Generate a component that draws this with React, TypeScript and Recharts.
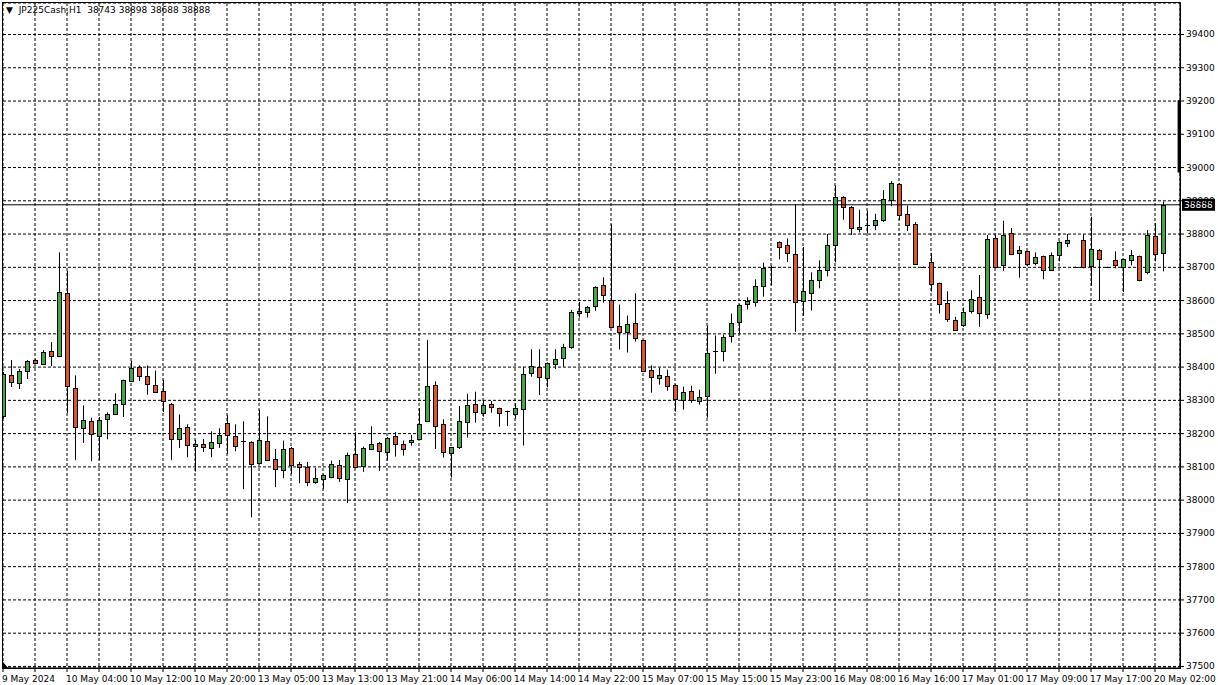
import React from "react";
import {
  ComposedChart,
  Bar,
  XAxis,
  YAxis,
  CartesianGrid,
  ReferenceLine,
  ReferenceArea,
} from "recharts";

// JP225Cash H1, one value per hourly bar
const opens = [
  38252, 38376, 38352, 38389, 38420, 38408, 38447, 38432, 38622, 38338,
  38218, 38239, 38193, 38245, 38260, 38290, 38359, 38400, 38374, 38347,
  38329, 38290, 38184, 38221, 38164, 38169, 38157, 38172, 38233, 38193,
  38178, 38175, 38111, 38178, 38124, 38091, 38157, 38109, 38100, 38055,
  38064, 38069, 38106, 38064, 38139, 38103, 38154, 38172, 38145, 38193,
  38168, 38174, 38185, 38239, 38347, 38228, 38143, 38161, 38234, 38289,
  38263, 38289, 38276, 38267, 38260, 38273, 38381, 38400, 38367, 38409,
  38428, 38459, 38564, 38567, 38585, 38646, 38601, 38525, 38507, 38534,
  38480, 38392, 38368, 38374, 38347, 38302, 38329, 38299, 38314, 38447,
  38447, 38492, 38537, 38591, 38597, 38643, 38702, 38776, 38767, 38740,
  38600, 38622, 38661, 38691, 38767, 38912, 38882, 38815, 38826, 38827,
  38842, 38903, 38951, 38860, 38830, 38700, 38715, 38652, 38594, 38543,
  38528, 38570, 38612, 38561, 38788, 38706, 38803, 38742, 38748, 38712,
  38733, 38691, 38736, 38773, 38700, 38782, 38703, 38752, 38700, 38721,
  38700, 38721, 38733, 38685, 38794, 38743,
];
const highs = [
  38385, 38421, 38395, 38421, 38424, 38451, 38475, 38745, 38689, 38375,
  38285, 38248, 38250, 38264, 38321, 38362, 38419, 38405, 38405, 38390,
  38362, 38292, 38258, 38228, 38181, 38184, 38207, 38216, 38255, 38228,
  38237, 38177, 38272, 38252, 38154, 38179, 38160, 38115, 38115, 38097,
  38078, 38119, 38121, 38143, 38204, 38161, 38222, 38175, 38190, 38205,
  38179, 38196, 38276, 38482, 38357, 38243, 38160, 38283, 38320, 38326,
  38300, 38298, 38278, 38269, 38291, 38401, 38454, 38454, 38414, 38454,
  38470, 38572, 38596, 38584, 38643, 38670, 38830, 38588, 38555, 38622,
  38482, 38405, 38398, 38392, 38349, 38341, 38344, 38332, 38525, 38495,
  38498, 38561, 38590, 38610, 38664, 38714, 38705, 38778, 38787, 38890,
  38761, 38685, 38721, 38800, 38946, 38914, 38884, 38873, 38870, 38861,
  38932, 38959, 38953, 38886, 38836, 38702, 38743, 38654, 38628, 38551,
  38579, 38631, 38677, 38797, 38797, 38840, 38818, 38764, 38750, 38745,
  38735, 38745, 38778, 38800, 38702, 38800, 38852, 38755, 38702, 38748,
  38726, 38752, 38735, 38812, 38833, 38898,
];
const lows = [
  38245, 38340, 38334, 38364, 38410, 38406, 38403, 38430, 38262, 38120,
  38172, 38117, 38120, 38183, 38258, 38250, 38356, 38358, 38317, 38323,
  38265, 38120, 38157, 38129, 38086, 38145, 38129, 38157, 38139, 38147,
  38033, 37948, 38108, 38118, 38039, 38066, 38079, 38051, 38042, 38049,
  38034, 38066, 38055, 37991, 38096, 38085, 38152, 38088, 38119, 38131,
  38134, 38164, 38182, 38237, 38154, 38128, 38068, 38154, 38188, 38233,
  38251, 38263, 38221, 38223, 38245, 38164, 38371, 38316, 38339, 38394,
  38401, 38455, 38549, 38549, 38569, 38594, 38520, 38453, 38444, 38477,
  38387, 38323, 38347, 38329, 38266, 38272, 38293, 38287, 38248, 38380,
  38417, 38474, 38501, 38573, 38582, 38612, 38646, 38724, 38716, 38506,
  38554, 38570, 38637, 38673, 38715, 38843, 38797, 38805, 38803, 38812,
  38836, 38884, 38842, 38809, 38709, 38698, 38627, 38561, 38536, 38513,
  38521, 38561, 38521, 38545, 38697, 38690, 38739, 38669, 38703, 38706,
  38664, 38689, 38718, 38761, 38698, 38697, 38645, 38600, 38698, 38697,
  38626, 38706, 38658, 38679, 38718, 38688,
];
const closes = [
  38380, 38356, 38389, 38419, 38413, 38444, 38434, 38625, 38342, 38221,
  38242, 38200, 38242, 38260, 38288, 38362, 38397, 38372, 38350, 38326,
  38299, 38184, 38218, 38166, 38170, 38159, 38175, 38197, 38196, 38163,
  38177, 38109, 38181, 38121, 38094, 38154, 38106, 38099, 38055, 38067,
  38075, 38109, 38067, 38136, 38099, 38157, 38169, 38148, 38187, 38170,
  38155, 38181, 38228, 38344, 38224, 38146, 38159, 38237, 38285, 38266,
  38285, 38279, 38263, 38266, 38276, 38379, 38402, 38370, 38412, 38424,
  38460, 38566, 38570, 38582, 38640, 38616, 38522, 38507, 38531, 38486,
  38389, 38371, 38377, 38344, 38305, 38326, 38302, 38311, 38441, 38446,
  38489, 38534, 38588, 38598, 38643, 38697, 38701, 38761, 38743, 38597,
  38628, 38661, 38691, 38767, 38912, 38882, 38818, 38821, 38825, 38842,
  38906, 38954, 38857, 38827, 38709, 38700, 38649, 38591, 38546, 38513,
  38567, 38606, 38564, 38785, 38701, 38797, 38739, 38752, 38709, 38730,
  38691, 38736, 38776, 38782, 38700, 38700, 38755, 38724, 38700, 38706,
  38724, 38736, 38661, 38797, 38739, 38888,
];

// one label every 8 bars, starting at bar 0
const timeLabels = [
  "9 May 2024", "10 May 04:00", "10 May 12:00", "10 May 20:00",
  "13 May 05:00", "13 May 13:00", "13 May 21:00", "14 May 06:00",
  "14 May 14:00", "14 May 22:00", "15 May 07:00", "15 May 15:00",
  "15 May 23:00", "16 May 08:00", "16 May 16:00", "17 May 01:00",
  "17 May 09:00", "17 May 17:00", "20 May 02:00",
];
const priceTicks = [
  37500, 37600, 37700, 37800, 37900, 38000, 38100, 38200, 38300, 38400,
  38500, 38600, 38700, 38800, 38900, 39000, 39100, 39200, 39300, 39400,
];
const barTicks = Array.from({ length: 37 }, (_, k) => k * 4);
const lastPrice = 38888;
const axisMarkTop = 39202;
const axisMarkBottom = 38985;

const symbolTitle = "JP225Cash,H1";
const ohlcTitle = "38743 38898 38688 38888";

const X_MAX = 147.125;
const Y_MIN = 37495.3;
const Y_MAX = 39494.7;

const FONT = "'DejaVu Sans', Tahoma, sans-serif";
const UP = "#42a843";
const DOWN = "#e0542b";

const data = opens.map((o, i) => ({
  bar: i,
  open: o,
  high: highs[i],
  low: lows[i],
  close: closes[i],
}));

const Candle = (props: any) => {
  const { x, y, width, height, payload } = props;
  if (payload == null || x == null) return null;
  const { open, close, high, low } = payload;
  const top = Math.min(y, y + height);
  const h = Math.abs(height);
  const ratio = high > low ? h / (high - low) : 0;
  const yOf = (v: number) => top + (high - v) * ratio;
  const cx = Math.round(x + width / 2);
  const up = close >= open;
  const bTop = Math.round(yOf(Math.max(open, close)));
  const bBot = Math.round(yOf(Math.min(open, close)));
  return (
    <g>
      <line x1={cx + 0.5} x2={cx + 0.5} y1={top} y2={top + h} stroke="#000" strokeWidth={1} />
      {bBot - bTop < 2 ? (
        <rect x={cx - 2} y={bTop} width={5} height={1} fill="#000" />
      ) : (
        <rect
          x={cx - 1.5}
          y={bTop + 0.5}
          width={4}
          height={bBot - bTop}
          fill={up ? UP : DOWN}
          stroke="#000"
          strokeWidth={1}
        />
      )}
    </g>
  );
};

const TimeTick = (props: any) => {
  const { x, y, payload } = props;
  const v = payload.value;
  if (v % 8 !== 0) return null;
  return (
    <text x={x - 1} y={y + 5} textAnchor="start" dominantBaseline="central" fontSize={9} fontFamily={FONT} fill="#000">
      {timeLabels[v / 8]}
    </text>
  );
};

const PriceTick = (props: any) => {
  const { x, y, payload } = props;
  return (
    <text x={x} y={y} textAnchor="start" dominantBaseline="central" fontSize={9} fontFamily={FONT} fill="#000">
      {payload.value}
    </text>
  );
};

const PriceBox = (props: any) => {
  const vb = props.viewBox;
  if (!vb) return null;
  const bx = vb.x + vb.width + 2;
  return (
    <g>
      <rect x={bx} y={vb.y - 6} width={33} height={12} fill="#000" />
      <text x={bx + 2} y={vb.y} dominantBaseline="central" fontSize={9} fontFamily={FONT} fill="#fff">
        {lastPrice}
      </text>
    </g>
  );
};

export default function App() {
  return (
    <div style={{ position: "absolute", left: 0, top: 0, width: 1218, height: 685, background: "#fff" }}>
      <ComposedChart
        width={1218}
        height={685}
        data={data}
        margin={{ top: 3, right: 0, left: 3, bottom: 0 }}
      >
        <CartesianGrid stroke="#000" strokeDasharray="3 2" />
        <XAxis
          dataKey="bar"
          type="number"
          domain={[0, X_MAX]}
          ticks={barTicks}
          interval={0}
          height={17}
          axisLine={{ stroke: "#000" }}
          tickLine={{ stroke: "#000" }}
          tickSize={4}
          tickMargin={2}
          tick={<TimeTick />}
          allowDataOverflow
        />
        <YAxis
          orientation="right"
          type="number"
          domain={[Y_MIN, Y_MAX]}
          ticks={priceTicks}
          interval={0}
          width={38}
          axisLine={{ stroke: "#000" }}
          tickLine={{ stroke: "#000" }}
          tickSize={4}
          tickMargin={2}
          tick={<PriceTick />}
          allowDataOverflow
        />
        <Bar
          dataKey={(d: any) => [d.low, d.high]}
          barSize={5}
          shape={<Candle />}
          isAnimationActive={false}
        />
        <ReferenceLine y={lastPrice} stroke="#000" strokeWidth={1} label={<PriceBox />} />
        <ReferenceArea
          x1={X_MAX - 0.3}
          x2={X_MAX}
          y1={axisMarkBottom}
          y2={axisMarkTop}
          fill="#000"
          fillOpacity={1}
          stroke="none"
          ifOverflow="visible"
        />
      </ComposedChart>
      <div
        style={{
          position: "absolute",
          left: 2,
          top: 2,
          width: 1179,
          height: 667,
          boxSizing: "border-box",
          border: "1px solid #000",
          pointerEvents: "none",
        }}
      />
      <svg
        width={10}
        height={10}
        style={{ position: "absolute", left: 2, top: 661, pointerEvents: "none" }}
      >
        <polygon points="1,1 1,8 7,8" fill="#000" />
      </svg>
      <div
        style={{
          position: "absolute",
          left: 6,
          top: 4,
          fontFamily: FONT,
          fontSize: 9,
          lineHeight: "12px",
          whiteSpace: "pre",
          color: "#000",
        }}
      >
        {"\u25BC  " + symbolTitle + "  " + ohlcTitle}
      </div>
    </div>
  );
}
